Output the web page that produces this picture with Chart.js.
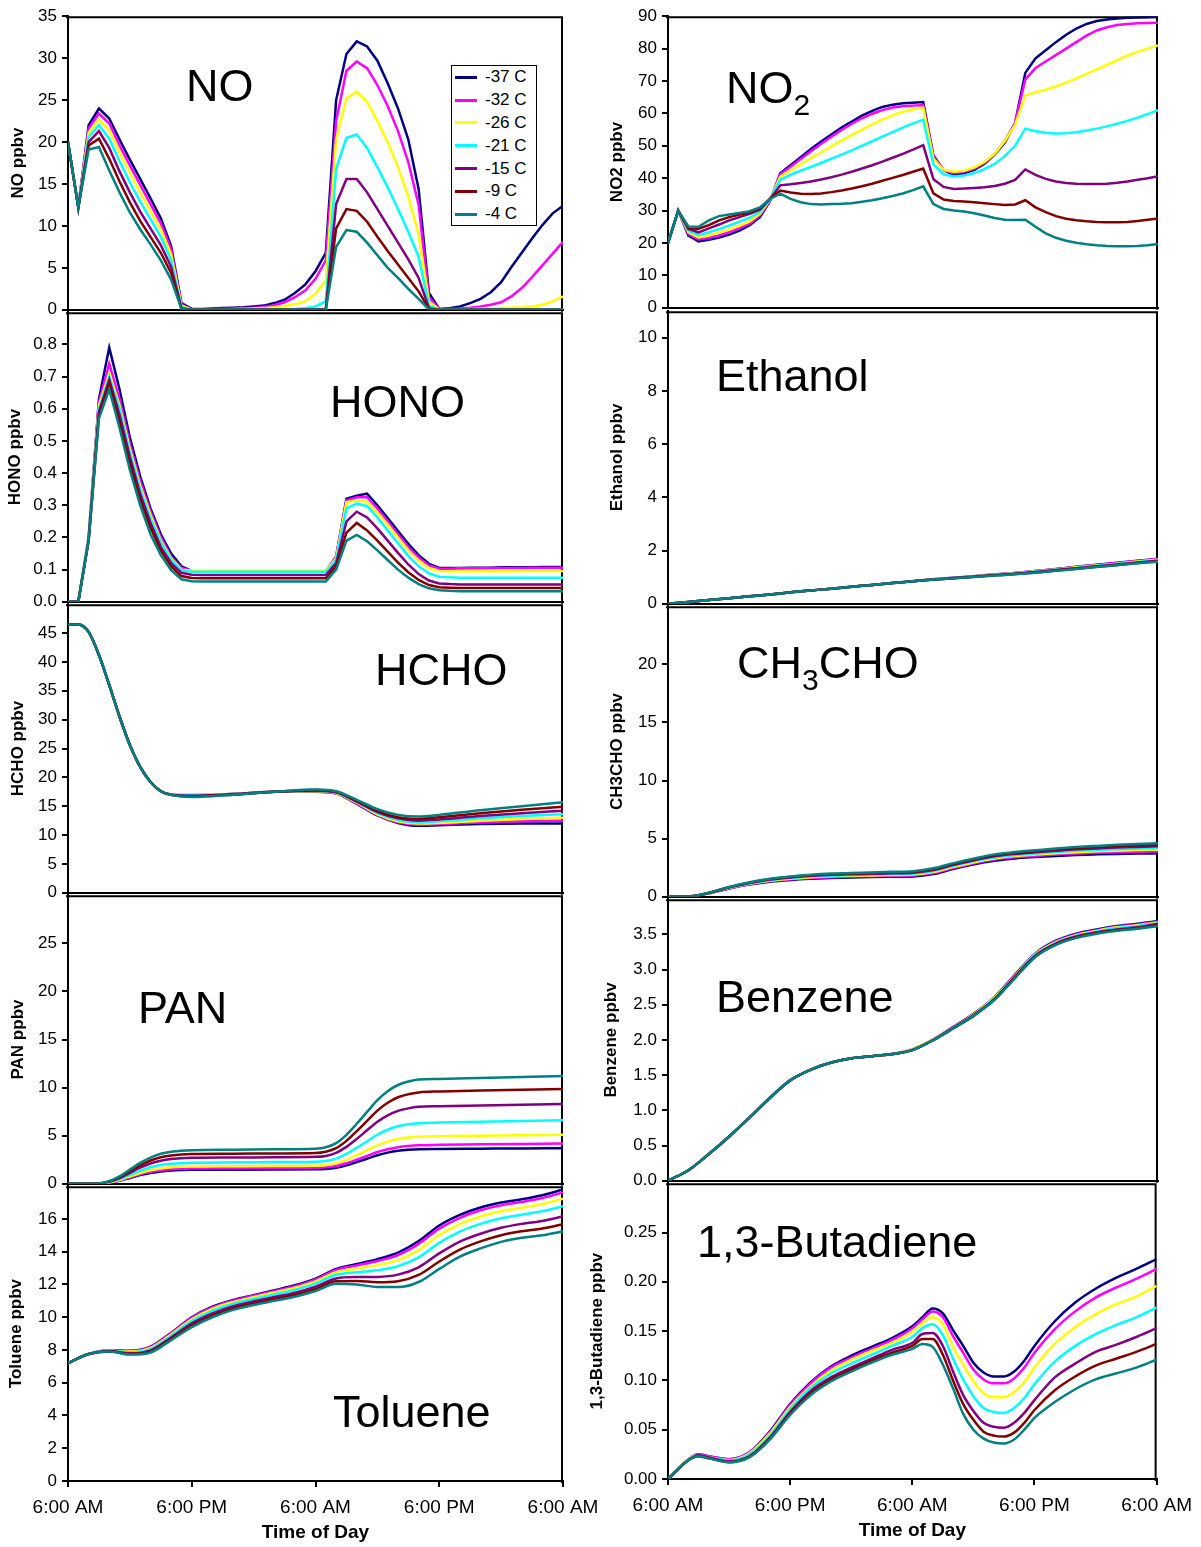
<!DOCTYPE html>
<html>
<head>
<meta charset="utf-8">
<title>Species vs time of day</title>
<script src="https://cdn.jsdelivr.net/npm/chart.js@4.4.0/dist/chart.umd.min.js"></script>
<style>
  html, body { margin: 0; padding: 0; background: #fff; }
  #page { position: relative; width: 1201px; height: 1547px; overflow: hidden;
          font-family: 'Liberation Sans', Arial, sans-serif; color: #000; }
  #page canvas { position: absolute; }
  .name { position: absolute; font-size: 45px; line-height: 45px; white-space: nowrap; z-index: 2; }
  .name .sub { font-size: 30px; position: relative; top: 12px; }
  #legend { position: absolute; left: 451px; top: 65px; width: 84px; height: 159px;
            border: 1px solid #000; background: #fff; z-index: 3; font-size: 17px; }
  #legend .sw { position: absolute; left: 3px; width: 22px; height: 3px; }
  #legend .tx { position: absolute; left: 33px; line-height: 20px; white-space: nowrap; }
</style>
</head>
<body>
<div id="page">
  <div class="name" style="left:186px;top:63px">NO</div>
  <div class="name" style="left:726px;top:65px">NO<span class="sub">2</span></div>
  <div class="name" style="left:330px;top:379px">HONO</div>
  <div class="name" style="left:716px;top:353px">Ethanol</div>
  <div class="name" style="left:375px;top:647px">HCHO</div>
  <div class="name" style="left:737px;top:640px">CH<span class="sub">3</span>CHO</div>
  <div class="name" style="left:138px;top:985px">PAN</div>
  <div class="name" style="left:716px;top:974px">Benzene</div>
  <div class="name" style="left:333px;top:1389px">Toluene</div>
  <div class="name" style="left:697px;top:1219px">1,3-Butadiene</div>
  <div id="legend"></div>
</div>
<script>
// series order: -37, -32, -26, -21, -15, -9, -4 C
const SERIES_LABELS = ['-37 C', '-32 C', '-26 C', '-21 C', '-15 C', '-9 C', '-4 C'];
const COLORS = ['#000080', '#FF00FF', '#FFFF00', '#00FFFF', '#800080', '#800000', '#008080'];
const X_TICK_LABELS = ['6:00 AM', '6:00 PM', '6:00 AM', '6:00 PM', '6:00 AM'];

// hours after the first 6:00 AM
const HOURS_1H = [0,1,2,3,4,5,6,7,8,9,10,11,12,13,14,15,16,17,18,19,20,21,22,23,24,25,26,27,28,29,30,31,32,33,34,35,36,37,38,39,40,41,42,43,44,45,46,47,48];
const HOURS_2H = [0,2,4,6,8,10,12,14,16,18,20,22,24,26,28,30,32,34,36,38,40,42,44,46,48];
const HCHO_HOURS = [0,1,2,3,4,5,6,7,8,9,10,12,16,20,24,26,28,30,32,34,36,40,44,48];
const PAN_HOURS = [0,2,3,4,5,6,7,8,9,10,12,16,20,24,25,26,27,28,29,30,31,32,33,34,36,40,44,48];
const BUTA_HOURS = [0,2,3,4,6,8,10,12,14,16,18,20,22,24,25,26,27,28,29,30,31,32,33,34,35,36,38,40,42,44,46,48];

// NO ppbv
const noM37 = [20,12.2,22,24,22.8,20.3,17.9,15.6,13.3,10.9, 7.6,0.8,0.1,0.1,0.15,0.2,0.25,0.3,0.4,0.5, 0.8,1.2,2.0,3.0,4.6,6.8,25,30.5,32,31.4, 29.7,27,24,20.3,14.4,2.0,0.1,0.2,0.4,0.8, 1.3,2.1,3.3,5.1,6.8,8.5,10.1,11.5,12.4];
const noM32 = [20,12.2,21.6,23.4,22.2,19.6,17.2,14.9,12.6,10.3, 7.2,0.6,0.05,0.05,0.1,0.12,0.15,0.2,0.25,0.35, 0.55,0.9,1.5,2.3,3.7,5.9,22.5,28.5,29.6,28.8, 26.8,24.3,21.3,17.6,12.5,1.5,0.05,0.1,0.15,0.25, 0.4,0.6,0.9,1.6,2.6,3.9,5.3,6.7,8.1];
const noM26 = [20,12.2,21.1,22.7,21.4,18.8,16.4,14.0,11.8,9.6, 6.6,0.5,0.03,0.05,0.05,0.05,0.07,0.1,0.15,0.2, 0.3,0.45,0.65,1.0,1.9,3.5,20.3,25.2,26,24.8, 22.5,20,17,13.5,9,1.0,0.03,0.05,0.07,0.1, 0.12,0.15,0.2,0.25,0.3,0.4,0.6,1.0,1.6];
const noM21 = [20,12.2,20.6,22.0,20.4,17.7,15.2,12.9,10.8,8.7, 5.9,0.3,0.02,0.02,0.02,0.03,0.03,0.04,0.05,0.05, 0.06,0.08,0.1,0.2,0.4,1.0,16.8,20.5,20.9,19.3, 17,14.6,12,9.3,6.3,0.5,0.03,0.03,0.03,0.03, 0.04,0.04,0.04,0.04,0.05,0.05,0.05,0.05,0.05];
const noM15 = [20,12.2,20.0,21.3,19.3,16.5,14.0,11.7,9.7,7.7, 5.1,0.2,0.01,0.01,0.01,0.01,0.01,0.01,0.01,0.01, 0.01,0.01,0.02,0.03,0.05,0.1,12.6,15.6,15.6,14, 12,10,8,6,3.8,0.2,0.01,0.01,0.01,0.01, 0.01,0.01,0.01,0.01,0.01,0.01,0.01,0.01,0.01];
const noM9  = [20,12.2,19.6,20.4,18.0,15.3,12.8,10.6,8.7,6.8, 4.4,0.1,0,0,0,0,0,0,0,0, 0,0,0,0.01,0.02,0.05,9.7,12,11.8,10.5, 8.7,7.0,5.4,3.8,2.2,0.1,0,0,0,0, 0,0,0,0,0,0,0,0,0];
const noM4  = [20,12.2,19.1,19.4,16.6,14.0,11.6,9.6,7.8,5.9, 3.6,0.1,0,0,0,0,0,0,0,0, 0,0,0,0,0.01,0.03,7.5,9.5,9.3,8.0, 6.5,5.0,3.8,2.5,1.3,0.05,0,0,0,0, 0,0,0,0,0,0,0,0,0];

// NO2 ppbv
const no2M37 = [20,30,22.3,20.5,21,21.7,22.6,23.8,25.5,28, 33,41.5,44,46.5,49,51.3,53.5,55.6,57.5,59.3, 60.8,62,62.7,63.1,63.3,63.5,47,42.5,41,41.5, 42.6,44.5,47.3,51,57,72.5,77,79.5,82,84.3, 86.2,87.6,88.5,89,89.3,89.5,89.6,89.7,89.8];
const no2M32 = [20,30,22.8,21.1,21.6,22.3,23.3,24.6,26,28.5, 33.2,41.2,43.5,45.9,48.3,50.6,52.8,54.9,56.8,58.5, 59.9,61,61.8,62.2,62.4,62.6,46.6,42.5,41.5,42, 43,44.8,47.5,51.5,57,70.5,74,76,78,80, 82,84,85.6,86.6,87.3,87.6,87.8,87.9,88];
const no2M26 = [20,30,23.3,21.7,22.3,23.2,24.2,25.3,26.7,29, 33.4,40.5,42.5,44.3,46.2,48,49.8,51.6,53.3,55, 56.6,58.1,59.4,60.5,61.3,61.8,46,42.6,42,42.3, 43.3,45,47.5,51.5,56.5,65.5,66.5,67.3,68.3,69.5, 70.8,72.2,73.6,75,76.4,77.8,79,80,81];
const no2M21 = [20,30,23.8,22.5,23.3,24.3,25.4,26.6,27.8,29.6, 33.5,39.5,41,42.3,43.5,44.7,46,47.3,48.6,50, 51.4,52.8,54.2,55.6,56.9,58,44.3,41.2,40.5,40.8, 41.6,42.8,44.4,46.8,50,55.3,54.5,54,53.8,53.9, 54.2,54.7,55.3,56,56.8,57.7,58.7,59.8,61];
const no2M15 = [20,30,24.3,23.3,24.5,25.7,27,28,29,30.3, 33.6,37.8,38.1,38.5,39,39.6,40.3,41.1,42,43, 44,45.1,46.3,47.5,48.8,50.2,39.7,37.3,36.7,36.8, 37,37.2,37.6,38.3,39.5,42.7,41,39.8,39,38.5, 38.3,38.2,38.2,38.3,38.6,39,39.5,40,40.6];
const no2M9  = [20,30,24.5,24.4,25.5,27,28,28.8,29.4,30.7, 33.7,36.2,35.6,35.2,35.1,35.3,35.7,36.2,36.8,37.5, 38.3,39.2,40.1,41,42,43,35.3,33.4,33,32.8, 32.6,32.3,32,31.7,31.9,33.2,31,29.5,28.3,27.5, 27,26.7,26.5,26.4,26.4,26.5,26.8,27.2,27.6];
const no2M4  = [20,30,25.1,25,27,28.3,28.8,29.3,29.8,31, 33.6,35.2,33.6,32.6,32,31.9,32,32.1,32.3,32.7, 33.2,33.8,34.5,35.3,36.3,37.5,32,30.5,30,29.7, 29.2,28.5,27.7,27.2,27.1,27.2,25,23,21.6,20.7, 20.1,19.6,19.3,19.1,19,19,19.1,19.3,19.7];

// HONO ppbv
const honoM37 = [0,0,0.2,0.63,0.79,0.66,0.51,0.39,0.29,0.21, 0.15,0.11,0.096,0.095,0.095,0.095,0.095,0.095,0.095,0.095, 0.095,0.095,0.095,0.095,0.095,0.095,0.14,0.32,0.33,0.336, 0.30,0.26,0.22,0.18,0.145,0.118,0.105,0.105,0.105,0.106, 0.106,0.106,0.107,0.107,0.107,0.107,0.108,0.108,0.108];
const honoM32 = [0,0,0.2,0.62,0.74,0.63,0.49,0.375,0.28,0.2, 0.14,0.105,0.096,0.095,0.095,0.095,0.095,0.095,0.095,0.095, 0.095,0.095,0.095,0.095,0.095,0.095,0.14,0.315,0.325,0.325, 0.29,0.25,0.21,0.17,0.138,0.113,0.103,0.103,0.104,0.104, 0.104,0.105,0.105,0.105,0.105,0.106,0.106,0.106,0.106];
const honoM26 = [0,0,0.2,0.61,0.71,0.61,0.475,0.36,0.27,0.19, 0.135,0.1,0.097,0.097,0.097,0.097,0.097,0.097,0.097,0.097, 0.097,0.097,0.097,0.097,0.097,0.097,0.135,0.31,0.315,0.312, 0.278,0.24,0.2,0.16,0.128,0.105,0.096,0.095,0.095,0.095, 0.095,0.095,0.095,0.095,0.096,0.096,0.096,0.096,0.096];
const honoM21 = [0,0,0.2,0.6,0.70,0.6,0.465,0.35,0.26,0.185, 0.13,0.098,0.094,0.093,0.093,0.093,0.093,0.093,0.093,0.093, 0.093,0.093,0.093,0.093,0.093,0.093,0.13,0.29,0.305,0.298, 0.262,0.222,0.182,0.142,0.11,0.088,0.078,0.076,0.075,0.075, 0.075,0.075,0.075,0.075,0.075,0.075,0.075,0.075,0.075];
const honoM15 = [0,0,0.19,0.59,0.69,0.58,0.45,0.335,0.245,0.17, 0.12,0.09,0.084,0.083,0.083,0.083,0.083,0.083,0.083,0.083, 0.083,0.083,0.083,0.083,0.083,0.083,0.12,0.25,0.28,0.262, 0.228,0.19,0.152,0.116,0.086,0.066,0.057,0.055,0.054,0.054, 0.054,0.054,0.054,0.054,0.054,0.054,0.054,0.054,0.054];
const honoM9  = [0,0,0.19,0.58,0.68,0.56,0.43,0.32,0.23,0.16, 0.11,0.08,0.074,0.073,0.073,0.073,0.073,0.073,0.073,0.073, 0.073,0.073,0.073,0.073,0.073,0.073,0.11,0.215,0.245,0.222, 0.19,0.156,0.122,0.092,0.068,0.052,0.045,0.044,0.043,0.043, 0.043,0.043,0.043,0.043,0.043,0.043,0.043,0.043,0.043];
const honoM4  = [0,0,0.19,0.57,0.66,0.54,0.41,0.30,0.21,0.145, 0.098,0.07,0.064,0.063,0.063,0.063,0.063,0.063,0.063,0.063, 0.063,0.063,0.063,0.063,0.063,0.063,0.1,0.19,0.208,0.188, 0.16,0.13,0.1,0.075,0.055,0.042,0.036,0.034,0.033,0.033, 0.033,0.033,0.033,0.033,0.033,0.033,0.033,0.033,0.033];

// Ethanol ppbv (2 h steps)
const ethM37 = [0,0.07,0.14,0.21,0.28,0.35,0.43,0.5,0.57,0.64,0.71,0.78, 0.85,0.92,0.98,1.04,1.1,1.16,1.23,1.31,1.39,1.47,1.54,1.62,1.69];
const ethM32 = [0,0.07,0.14,0.21,0.28,0.35,0.43,0.5,0.57,0.64,0.71,0.78, 0.85,0.92,0.98,1.04,1.1,1.16,1.23,1.3,1.38,1.46,1.53,1.61,1.68];
const ethM26 = [0,0.07,0.14,0.21,0.28,0.35,0.43,0.5,0.57,0.64,0.71,0.78, 0.85,0.92,0.97,1.03,1.09,1.15,1.22,1.29,1.37,1.44,1.51,1.59,1.66];
const ethM21 = [0,0.07,0.14,0.21,0.28,0.35,0.43,0.5,0.57,0.64,0.71,0.78, 0.85,0.91,0.97,1.03,1.08,1.14,1.21,1.28,1.35,1.43,1.5,1.57,1.64];
const ethM15 = [0,0.07,0.14,0.21,0.28,0.35,0.43,0.5,0.57,0.64,0.71,0.78, 0.85,0.91,0.97,1.02,1.08,1.13,1.2,1.27,1.34,1.41,1.48,1.55,1.62];
const ethM9  = [0,0.07,0.14,0.21,0.28,0.35,0.43,0.5,0.57,0.64,0.71,0.78, 0.85,0.91,0.96,1.02,1.07,1.12,1.18,1.25,1.32,1.39,1.46,1.53,1.6];
const ethM4  = [0,0.07,0.14,0.21,0.28,0.35,0.43,0.5,0.57,0.64,0.71,0.78, 0.85,0.91,0.96,1.01,1.06,1.11,1.17,1.24,1.31,1.38,1.45,1.52,1.58];

// HCHO ppbv
const hchoM37 = [46.5,46.5,45.2,41.2,36,30.5,25.6,21.8,19.2,17.6,17.0, 16.9,17.1,17.5,17.5,17.2,15.4,13.4,12.1,11.6,11.7,11.9,12.0,12.0];
const hchoM32 = [46.5,46.5,45.2,41.2,36,30.5,25.6,21.8,19.2,17.6,17.0, 17.0,17.1,17.5,17.6,17.3,15.5,13.5,12.2,11.8,11.9,12.2,12.4,12.5];
const hchoM26 = [46.5,46.5,45.2,41.2,36,30.5,25.6,21.8,19.2,17.6,17.0, 17.0,17.1,17.5,17.6,17.3,15.6,13.6,12.4,12.0,12.1,12.5,12.8,13.0];
const hchoM21 = [46.5,46.5,45.2,41.2,36,30.5,25.6,21.8,19.2,17.6,17.0, 16.9,17.1,17.5,17.7,17.4,15.7,13.8,12.6,12.2,12.4,12.9,13.3,13.6];
const hchoM15 = [46.5,46.5,45.2,41.2,36,30.5,25.6,21.8,19.2,17.6,17.0, 16.8,17.1,17.5,17.7,17.4,15.8,14.0,12.9,12.5,12.7,13.3,13.8,14.2];
const hchoM9  = [46.5,46.5,45.2,41.2,36,30.5,25.6,21.8,19.2,17.6,17.0, 16.7,17.0,17.5,17.8,17.5,15.9,14.2,13.1,12.8,13.1,13.8,14.4,14.9];
const hchoM4  = [46.5,46.5,45.2,41.2,36,30.5,25.6,21.8,19.2,17.6,17.0, 16.6,17.0,17.5,17.9,17.6,16.1,14.5,13.5,13.2,13.5,14.3,15.0,15.7];

// CH3CHO ppbv (2 h steps)
const acetM37 = [0,0.02,0.3,0.72,1.05,1.3,1.45,1.55,1.62,1.67,1.7,1.72,1.75,1.95,2.4,2.8,3.1,3.3,3.42,3.52,3.6,3.65,3.69,3.72,3.74];
const acetM32 = [0,0.02,0.31,0.74,1.09,1.35,1.5,1.61,1.69,1.74,1.77,1.8,1.83,2.04,2.49,2.89,3.2,3.4,3.52,3.63,3.72,3.78,3.83,3.87,3.9];
const acetM26 = [0,0.02,0.32,0.77,1.12,1.39,1.56,1.68,1.76,1.81,1.84,1.87,1.91,2.13,2.58,2.98,3.3,3.5,3.63,3.75,3.84,3.91,3.97,4.02,4.05];
const acetM21 = [0,0.02,0.33,0.79,1.16,1.43,1.61,1.74,1.82,1.87,1.91,1.95,1.99,2.22,2.67,3.07,3.39,3.59,3.73,3.85,3.96,4.04,4.1,4.15,4.2];
const acetM15 = [0,0.02,0.335,0.81,1.19,1.48,1.66,1.8,1.89,1.94,1.98,2.02,2.07,2.3,2.75,3.15,3.49,3.69,3.83,3.96,4.08,4.16,4.24,4.29,4.34];
const acetM9  = [0,0.02,0.345,0.83,1.22,1.52,1.71,1.85,1.95,2.0,2.04,2.09,2.14,2.38,2.83,3.23,3.57,3.77,3.92,4.06,4.18,4.28,4.36,4.43,4.48];
const acetM4  = [0,0.02,0.35,0.85,1.25,1.55,1.75,1.9,2.0,2.05,2.1,2.15,2.2,2.45,2.9,3.3,3.65,3.85,4.0,4.15,4.28,4.38,4.47,4.54,4.6];

// PAN ppbv
const panM37 = [0,0,0.01,0.12,0.32,0.61,0.9,1.13,1.29,1.38, 1.45,1.47,1.48,1.5,1.54, 1.67,1.92,2.26,2.61,2.97, 3.24,3.43,3.54,3.6,3.62, 3.65,3.68,3.7];
const panM32 = [0,0,0.02,0.13,0.35,0.67,0.99,1.25,1.42,1.52, 1.6,1.62,1.64,1.66,1.71, 1.85,2.13,2.5,2.9,3.3, 3.6,3.81,3.93,4.0,4.05, 4.1,4.15,4.2];
const panM26 = [0,0,0.02,0.14,0.4,0.76,1.12,1.4,1.6,1.71, 1.8,1.83,1.85,1.88,1.94, 2.12,2.48,2.97,3.48,3.99, 4.39,4.66,4.81,4.9,4.95, 5.0,5.05,5.1];
const panM21 = [0,0,0.02,0.18,0.48,0.92,1.36,1.72,1.96,2.09, 2.2,2.23,2.26,2.3,2.38, 2.62,3.1,3.74,4.42,5.1, 5.62,5.98,6.18,6.3,6.37, 6.45,6.53,6.6];
const panM15 = [0,0,0.03,0.22,0.59,1.13,1.67,2.11,2.4,2.57, 2.7,2.73,2.76,2.8,2.9, 3.22,3.84,4.67,5.56,6.44, 7.12,7.58,7.84,8.0,8.07, 8.15,8.23,8.3];
const panM9  = [0,0,0.03,0.25,0.68,1.3,1.92,2.42,2.76,2.95, 3.1,3.13,3.16,3.2,3.33, 3.7,4.46,5.47,6.54,7.61, 8.43,9.0,9.31,9.5,9.6, 9.7,9.78,9.85];
const panM4  = [0,0,0.04,0.28,0.77,1.47,2.17,2.73,3.12,3.33, 3.5,3.55,3.6,3.65,3.8, 4.23,5.09,6.24,7.47,8.69, 9.63,10.27,10.63,10.85,10.9, 11.0,11.1,11.2];

// Benzene ppbv (2 h steps)
const bzM37 = [0,0.15,0.38,0.63,0.9,1.18,1.43,1.58,1.68,1.74,1.77,1.8, 1.87,2.01,2.19,2.38,2.61,2.93,3.23,3.41,3.51,3.57,3.62,3.65,3.69];
const bzM32 = [0,0.15,0.38,0.63,0.9,1.18,1.43,1.58,1.68,1.74,1.77,1.8, 1.87,2.01,2.19,2.37,2.6,2.92,3.22,3.4,3.5,3.56,3.61,3.64,3.68];
const bzM26 = [0,0.15,0.38,0.63,0.9,1.18,1.43,1.58,1.68,1.74,1.77,1.8, 1.87,2.01,2.18,2.37,2.6,2.91,3.22,3.39,3.49,3.55,3.6,3.63,3.67];
const bzM21 = [0,0.15,0.38,0.63,0.9,1.18,1.43,1.58,1.68,1.74,1.77,1.8, 1.86,2.0,2.18,2.36,2.59,2.9,3.21,3.38,3.48,3.54,3.59,3.62,3.66];
const bzM15 = [0,0.15,0.38,0.63,0.9,1.18,1.43,1.58,1.68,1.74,1.77,1.8, 1.86,2.0,2.18,2.36,2.58,2.9,3.2,3.37,3.47,3.53,3.57,3.6,3.65];
const bzM9  = [0,0.15,0.38,0.63,0.9,1.18,1.43,1.58,1.68,1.74,1.77,1.8, 1.86,2.0,2.17,2.35,2.58,2.89,3.19,3.36,3.46,3.52,3.56,3.59,3.63];
const bzM4  = [0,0.15,0.38,0.63,0.9,1.18,1.43,1.58,1.68,1.74,1.77,1.8, 1.86,2.0,2.17,2.35,2.57,2.88,3.18,3.35,3.45,3.51,3.55,3.58,3.62];

// Toluene ppbv (2 h steps)
const tolM37 = [7.2,7.75,7.98,7.95,8.2,9.05,10.0,10.65,11.05,11.35,11.65,11.95,12.35,12.95,13.25,13.55,13.95,14.65,15.6,16.25,16.7,17.0,17.2,17.45,17.8];
const tolM32 = [7.2,7.75,7.97,7.93,8.18,9.02,9.96,10.6,11.01,11.31,11.6,11.9,12.3,12.89,13.16,13.43,13.8,14.48,15.41,16.07,16.53,16.83,17.04,17.28,17.62];
const tolM26 = [7.2,7.75,7.96,7.9,8.12,8.95,9.87,10.51,10.92,11.22,11.51,11.8,12.19,12.75,12.98,13.18,13.49,14.1,15.02,15.69,16.15,16.47,16.68,16.91,17.24];
const tolM21 = [7.2,7.75,7.95,7.86,8.06,8.87,9.76,10.39,10.81,11.11,11.39,11.67,12.05,12.59,12.75,12.87,13.11,13.65,14.54,15.23,15.7,16.04,16.26,16.47,16.78];
const tolM15 = [7.2,7.75,7.93,7.8,7.98,8.76,9.62,10.23,10.67,10.97,11.23,11.5,11.87,12.37,12.45,12.46,12.6,13.05,13.9,14.62,15.1,15.46,15.7,15.88,16.16];
const tolM9  = [7.2,7.75,7.91,7.76,7.91,8.68,9.5,10.11,10.55,10.85,11.11,11.37,11.73,12.2,12.21,12.14,12.2,12.58,13.4,14.13,14.63,15.01,15.25,15.42,15.68];
const tolM4  = [7.2,7.75,7.9,7.72,7.85,8.6,9.4,10.0,10.45,10.75,11.0,11.25,11.6,12.05,12.0,11.85,11.84,12.15,12.95,13.7,14.2,14.6,14.85,15.0,15.24];

// 1,3-Butadiene ppbv
const butM37 = [0,0.02,0.025,0.023,0.02, 0.027,0.048,0.076,0.098,0.114, 0.125,0.134,0.143,0.155,0.164, 0.173,0.168,0.151,0.135,0.118, 0.108,0.104,0.104,0.109,0.12, 0.135,0.16,0.179,0.193,0.204, 0.213,0.223];
const butM32 = [0,0.02,0.025,0.023,0.02, 0.027,0.047,0.075,0.097,0.113, 0.123,0.132,0.141,0.153,0.162, 0.17,0.164,0.145,0.128,0.111, 0.101,0.097,0.097,0.102,0.113, 0.128,0.152,0.17,0.184,0.194, 0.203,0.213];
const butM26 = [0,0.02,0.024,0.022,0.019, 0.026,0.046,0.073,0.094,0.11, 0.121,0.13,0.138,0.149,0.158, 0.164,0.157,0.134,0.116,0.099, 0.087,0.083,0.083,0.088,0.098, 0.113,0.137,0.154,0.167,0.177, 0.185,0.196];
const butM21 = [0,0.0195,0.024,0.022,0.019, 0.025,0.044,0.071,0.092,0.107, 0.117,0.126,0.135,0.144,0.153, 0.157,0.146,0.122,0.101,0.084, 0.072,0.068,0.067,0.072,0.082, 0.096,0.119,0.135,0.147,0.156, 0.164,0.174];
const butM15 = [0,0.019,0.024,0.022,0.018, 0.023,0.042,0.068,0.089,0.103, 0.113,0.122,0.131,0.138,0.147, 0.148,0.135,0.109,0.085,0.069, 0.057,0.053,0.052,0.057,0.067, 0.08,0.103,0.117,0.129,0.136, 0.144,0.153];
const butM9  = [0,0.019,0.023,0.021,0.017, 0.023,0.041,0.067,0.087,0.101, 0.111,0.12,0.128,0.135,0.142, 0.142,0.126,0.1,0.076,0.06, 0.048,0.044,0.043,0.047,0.057, 0.07,0.09,0.104,0.115,0.122, 0.129,0.137];
const butM4  = [0,0.019,0.023,0.021,0.017, 0.022,0.04,0.065,0.085,0.099, 0.109,0.118,0.126,0.132,0.137, 0.134,0.116,0.092,0.066,0.05, 0.041,0.037,0.036,0.04,0.05, 0.062,0.078,0.091,0.101,0.107, 0.113,0.121];

// panel layout: plot top/bottom and y-title centre, in page pixels
const PANELS = [
  { col: 0, top: 15,   bottom: 311,  titleX: 18,  max: 35,  step: 5,    lastTick: 35,   dec: 0, title: 'NO ppbv',       hours: HOURS_1H,   series: [noM37, noM32, noM26, noM21, noM15, noM9, noM4], straight: true },
  { col: 0, top: 311,  bottom: 603,  titleX: 15,  max: 0.9, step: 0.1,  lastTick: 0.8,  dec: 1, title: 'HONO ppbv',     hours: HOURS_1H,   series: [honoM37, honoM32, honoM26, honoM21, honoM15, honoM9, honoM4], straight: true },
  { col: 0, top: 603,  bottom: 894,  titleX: 18,  max: 50,  step: 5,    lastTick: 45,   dec: 0, title: 'HCHO ppbv',     hours: HCHO_HOURS, series: [hchoM37, hchoM32, hchoM26, hchoM21, hchoM15, hchoM9, hchoM4] },
  { col: 0, top: 894,  bottom: 1185, titleX: 18,  max: 30,  step: 5,    lastTick: 25,   dec: 0, title: 'PAN ppbv',      hours: PAN_HOURS,  series: [panM37, panM32, panM26, panM21, panM15, panM9, panM4] },
  { col: 0, top: 1185, bottom: 1481, titleX: 16,  max: 18,  step: 2,    lastTick: 16,   dec: 0, title: 'Toluene ppbv',  hours: HOURS_2H,   series: [tolM37, tolM32, tolM26, tolM21, tolM15, tolM9, tolM4], xLabels: true },
  { col: 1, top: 15,   bottom: 309,  titleX: 617, max: 90,  step: 10,   lastTick: 90,   dec: 0, title: 'NO2 ppbv',      hours: HOURS_1H,   series: [no2M37, no2M32, no2M26, no2M21, no2M15, no2M9, no2M4], straight: true },
  { col: 1, top: 310,  bottom: 605,  titleX: 617, max: 11,  step: 2,    lastTick: 10,   dec: 0, title: 'Ethanol ppbv',  hours: HOURS_2H,   series: [ethM37, ethM32, ethM26, ethM21, ethM15, ethM9, ethM4] },
  { col: 1, top: 605,  bottom: 898,  titleX: 617, max: 25,  step: 5,    lastTick: 20,   dec: 0, title: 'CH3CHO ppbv',   hours: HOURS_2H,   series: [acetM37, acetM32, acetM26, acetM21, acetM15, acetM9, acetM4] },
  { col: 1, top: 898,  bottom: 1182, titleX: 611, max: 4,   step: 0.5,  lastTick: 3.5,  dec: 1, title: 'Benzene ppbv',  hours: HOURS_2H,   series: [bzM37, bzM32, bzM26, bzM21, bzM15, bzM9, bzM4] },
  { col: 1, top: 1182, bottom: 1479, titleX: 597, max: 0.3, step: 0.05, lastTick: 0.25, dec: 2, title: '1,3-Butadiene ppbv', hours: BUTA_HOURS, series: [butM37, butM32, butM26, butM21, butM15, butM9, butM4], xLabels: true }
];

Chart.defaults.font.family = "'Liberation Sans', Arial, sans-serif";
Chart.defaults.color = '#000';

// top and right edges of the plot box (left and bottom come from the axes)
const frame = {
  id: 'frame',
  beforeDatasetsDraw(chart) {
    const { ctx, chartArea: a } = chart;
    ctx.save();
    ctx.strokeStyle = '#000';
    ctx.lineWidth = 2;
    ctx.beginPath();
    ctx.moveTo(a.left - 2, a.top + 1);
    ctx.lineTo(a.right - 1, a.top + 1);
    ctx.lineTo(a.right - 1, a.bottom + 2);
    ctx.stroke();
    ctx.restore();
  }
};

function makeDatasets(hours, series, straight) {
  return series.map((vals, i) => ({
    label: SERIES_LABELS[i],
    data: vals.map((v, k) => ({ x: hours[k], y: v })),
    borderColor: COLORS[i],
    backgroundColor: COLORS[i],
    borderWidth: 2.5,
    pointRadius: 0,
    fill: false,
    tension: straight ? 0 : 0.4,
    cubicInterpolationMode: straight ? 'default' : 'monotone',
    order: series.length - i
  }));
}

const page = document.getElementById('page');
const PAD_TOP = 14;
const TITLE_FONT = 17;

PANELS.forEach(p => {
  // left column: plot 68..563, right column: plot 668..1158
  const colLeft = p.col === 0 ? 0 : 570;
  const colWidth = p.col === 0 ? 610 : 631;
  const axisW = p.col === 0 ? 68 : 98;
  const padRight = p.col === 0 ? 47 : 43;
  const xAxisH = p.xLabels ? 64 : 0;
  const padBottom = p.xLabels ? 0 : 14;
  const titlePad = p.titleX - colLeft - TITLE_FONT * 1.2 / 2;
  const canvas = document.createElement('canvas');
  canvas.width = colWidth;
  canvas.height = PAD_TOP + (p.bottom - p.top) + xAxisH + padBottom;
  canvas.style.left = colLeft + 'px';
  canvas.style.top = (p.top - PAD_TOP) + 'px';
  page.appendChild(canvas);

  new Chart(canvas, {
    type: 'line',
    data: { datasets: makeDatasets(p.hours, p.series, p.straight) },
    options: {
      responsive: false,
      animation: false,
      devicePixelRatio: 1,
      events: [],
      layout: { padding: { top: PAD_TOP, bottom: padBottom, left: 0, right: padRight } },
      plugins: { legend: { display: false }, tooltip: { enabled: false } },
      scales: {
        x: {
          type: 'linear',
          min: 0,
          max: 48,
          afterFit: s => { s.height = xAxisH; },
          grid: { drawOnChartArea: false, drawTicks: !!p.xLabels, tickLength: 6, color: '#000', lineWidth: 2 },
          border: { display: true, color: '#000', width: 2 },
          ticks: {
            display: !!p.xLabels, stepSize: 12, padding: 9, maxRotation: 0, autoSkip: false,
            font: { size: 19 }, color: '#000',
            callback: v => X_TICK_LABELS[Math.round(v / 12)]
          },
          title: { display: !!p.xLabels, text: 'Time of Day', font: { size: 19, weight: 'bold' }, color: '#000', padding: { top: 0, bottom: 1 } }
        },
        y: {
          min: 0,
          max: p.max,
          afterFit: s => { s.width = axisW; },
          afterBuildTicks: s => { s.ticks = s.ticks.filter(t => t.value <= p.lastTick + 1e-9); },
          grid: { drawOnChartArea: false, tickLength: 6, color: '#000', lineWidth: 2 },
          border: { display: true, color: '#000', width: 2 },
          ticks: { stepSize: p.step, padding: 5, font: { size: 17 }, color: '#000', callback: v => Number(v).toFixed(p.dec) },
          title: { display: true, text: p.title, font: { size: TITLE_FONT, weight: 'bold' }, color: '#000', padding: { top: titlePad, bottom: 0 } }
        }
      }
    },
    plugins: [frame]
  });
});

// legend box inside the NO panel
const legend = document.getElementById('legend');
SERIES_LABELS.forEach((name, i) => {
  const cy = 11.3 + i * 22.8;
  const sw = document.createElement('div');
  sw.className = 'sw';
  sw.style.top = (cy - 1.5) + 'px';
  sw.style.background = COLORS[i];
  const tx = document.createElement('div');
  tx.className = 'tx';
  tx.style.top = (cy - 10) + 'px';
  tx.textContent = name;
  legend.appendChild(sw);
  legend.appendChild(tx);
});
</script>
</body>
</html>
